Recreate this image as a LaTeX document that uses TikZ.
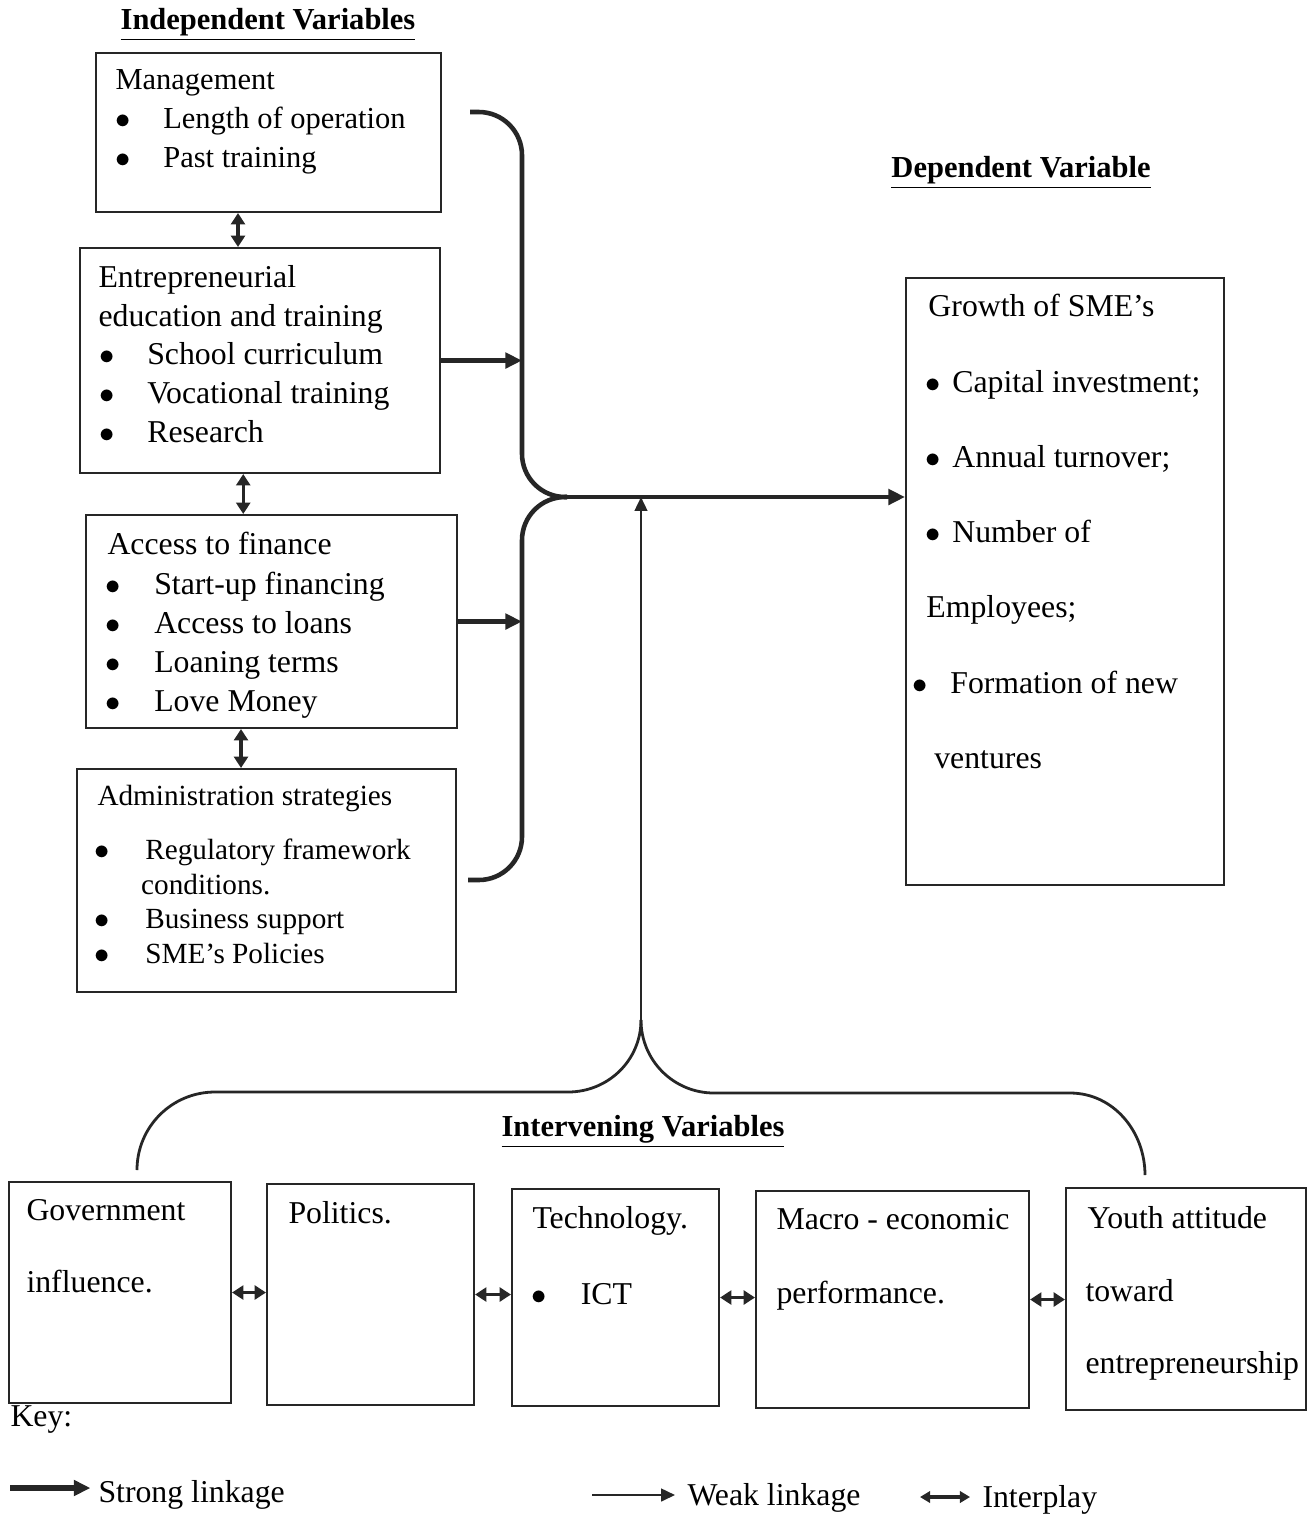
\documentclass[tikz,border=0pt]{standalone}
\usepackage{fontspec}
\setmainfont{Liberation Serif}
\usepackage{tikz}
\usetikzlibrary{arrows.meta,calc}
\newlength\unitpx
\setlength\unitpx{0.01383cm}
\newcommand\bul[1]{\makebox[#1][l]{\hspace*{-1pt}$\bullet$}}
\tikzset{
  varbox/.style 2 args={draw=black!85,line width=0.8pt,inner sep=0pt,anchor=north west,
    minimum width=#1\unitpx,minimum height=#2\unitpx},
  boxtext/.style={anchor=north west,inner sep=0pt,align=left,font=\fontsize{12.5}{15.3}\selectfont},
  headtext/.style={anchor=base,inner sep=0pt,font=\fontsize{12}{14}\selectfont\bfseries},
  keytext/.style={anchor=base west,inner sep=0pt,font=\fontsize{12.5}{15}\selectfont},
  strongarrow/.style={-{Triangle[length=6.5pt,width=6pt]},line width=1.6pt,draw=black!85},
  weakarrow/.style={-{Triangle[length=5.5pt,width=5pt]},line width=0.9pt,draw=black!85},
  interplay/.style={{Triangle[length=4.5pt,width=5.5pt]}-{Triangle[length=4.5pt,width=5.5pt]},
    line width=1.2pt,draw=black!85},
  bracepath/.style={line width=1.8pt,rounded corners=17pt,draw=black!85},
  lowbrace/.style={line width=1.1pt,draw=black!85}
}

\begin{document}
\begin{tikzpicture}[x=0.01383cm,y=-0.01383cm]
  \useasboundingbox (0,0) rectangle (1307,1516);
  % independent variables
  \node[headtext] (indep) at (268,29) {\underline{Independent Variables}};
  \node[varbox={345}{159}] (mgmt) at (95,52) {};
  \node[varbox={360}{225}] (edu) at (79,247) {};
  \node[varbox={371}{213}] (fin) at (85,514) {};
  \node[varbox={379}{223}] (admin) at (76,768) {};
  \node[boxtext,font=\fontsize{12}{15.3}\selectfont] (mgmttext) at (115,69)
    {Management\\ \hspace*{0.8pt}\bul{18pt}Length of operation\\ \hspace*{0.8pt}\bul{18pt}Past training};
  \node[boxtext,font=\fontsize{12.5}{15.2}\selectfont] (edutext) at (98,265)
    {Entrepreneurial\\education and training\\ \hspace*{1.2pt}\bul{18pt}School curriculum\\
     \hspace*{1.2pt}\bul{18pt}Vocational training\\ \hspace*{1.2pt}\bul{18pt}Research};
  \node[boxtext,font=\fontsize{12.5}{15.4}\selectfont] (fintext) at (107,532)
    {Access to finance\\ \hspace*{0.4pt}\bul{18pt}Start-up financing\\ \hspace*{0.4pt}\bul{18pt}Access to loans\\
     \hspace*{0.4pt}\bul{18pt}Loaning terms\\ \hspace*{0.4pt}\bul{18pt}Love Money};
  \node[boxtext,font=\fontsize{11.5}{13.7}\selectfont] (admintext) at (97,785)
    {Administration strategies\\[7.3pt] \bul{18.8pt}Regulatory framework\\ \hspace*{17.2pt}conditions.\\
     \bul{18.8pt}Business support\\ \bul{18.8pt}SME's Policies};
  \draw[interplay] ([xshift=-12pt]mgmt.south) -- ([xshift=-12pt]mgmt.south |- edu.north);
  \draw[interplay] ([xshift=-6.6pt]edu.south) -- ([xshift=-6.6pt]edu.south |- fin.north);
  \draw[interplay] ([xshift=-12pt]fin.south) -- ([xshift=-12pt]fin.south |- admin.north);

  % dependent variable
  \node[headtext] (dep) at (1021,177) {\underline{Dependent Variable}};
  \node[varbox={318}{607}] (growth) at (905,277) {};
  \node[boxtext,font=\fontsize{12.5}{29.6}\selectfont] (growthtext) at (915,294)
    {\hspace*{5.1pt}Growth of SME's\\ \hspace*{5.1pt}\bul{9.4pt}Capital investment;\\
     \hspace*{5.1pt}\bul{9.4pt}Annual turnover;\\ \hspace*{5.1pt}\bul{9.4pt}Number of\\
     \hspace*{4.3pt}Employees;\\ \bul{13.7pt}Formation of new\\ \hspace*{7.4pt}ventures};

  % linkages
  \coordinate (topend) at (470,112);
  \coordinate (botend) at (468,880);
  \coordinate (spine) at (522,497);
  \coordinate (join) at (567,497);
  \draw[bracepath] (topend) -| (spine) -- (join);
  \draw[bracepath] (join) -| (spine |- botend) -- (botend);
  \draw[strongarrow] (edu.east) -- (edu.east -| spine);
  \draw[strongarrow] (fin.east) -- (fin.east -| spine);
  \draw[strongarrow] (join) -- (join -| growth.west);

  % intervening variables
  \coordinate (cusp) at (641,1020);
  \coordinate (bleft) at (137,1170);
  \coordinate (bright) at (1145,1175);
  \draw[weakarrow] (cusp) -- (cusp |- join);
  \draw[lowbrace] (bleft) to[out=90,in=180] (215,1092) -- (568,1092) to[out=0,in=-90] (cusp);
  \draw[lowbrace] (cusp) to[out=-90,in=180] (714,1093) -- (1070,1093) to[out=0,in=90] (bright);
  \node[headtext] (interv) at (643,1136) {\underline{Intervening Variables}};
  \node[varbox={222}{221}] (gov) at (8,1181) {};
  \node[varbox={207}{221}] (pol) at (266,1183) {};
  \node[varbox={207}{217}] (tech) at (511,1188) {};
  \node[varbox={273}{217}] (macro) at (755,1190) {};
  \node[varbox={240}{222}] (youth) at (1065,1187) {};
  \node[boxtext,font=\fontsize{12.5}{28.2}\selectfont] (govtext) at (26,1199) {Government\\influence.};
  \node[boxtext] (poltext) at (288,1201) {Politics.};
  \node[boxtext,font=\fontsize{12.5}{29.8}\selectfont] (techtext) at (532,1206)
    {Technology.\\ \hspace*{0.6pt}\bul{18.4pt}ICT};
  \node[boxtext,font=\fontsize{12.5}{29}\selectfont] (macrotext) at (776,1208) {Macro - economic\\performance.};
  \node[boxtext,font=\fontsize{12.5}{28.6}\selectfont] (youthtext) at (1085,1206)
    {\hspace*{0.8pt}Youth attitude\\toward\\entrepreneurship};
  \draw[interplay] (gov.east) -- (gov.east -| pol.west);
  \draw[interplay] (pol.east) -- (pol.east -| tech.west);
  \draw[interplay] (tech.east) -- (tech.east -| macro.west);
  \draw[interplay] (macro.east) -- (macro.east -| youth.west);

  % key
  \node[keytext] (key) at (10,1426) {Key:};
  \node[keytext] (strongtxt) at (98,1502) {Strong linkage};
  \node[keytext] (weaktxt) at (687,1505) {Weak linkage};
  \node[keytext] (playtxt) at (982,1507) {Interplay};
  \coordinate (strongstart) at (10,1488);
  \coordinate (weakstart) at (592,1495);
  \coordinate (playstart) at (920,1497);
  \draw[strongarrow,line width=2pt] (strongstart) -- ([xshift=-3pt]strongtxt.west |- strongstart);
  \draw[weakarrow] (weakstart) -- ([xshift=-4.7pt]weaktxt.west |- weakstart);
  \draw[interplay,{Triangle[length=4pt,width=4.5pt]}-{Triangle[length=4pt,width=4.5pt]}]
    (playstart) -- ([xshift=-4.7pt]playtxt.west |- playstart);
\end{tikzpicture}
\end{document}
